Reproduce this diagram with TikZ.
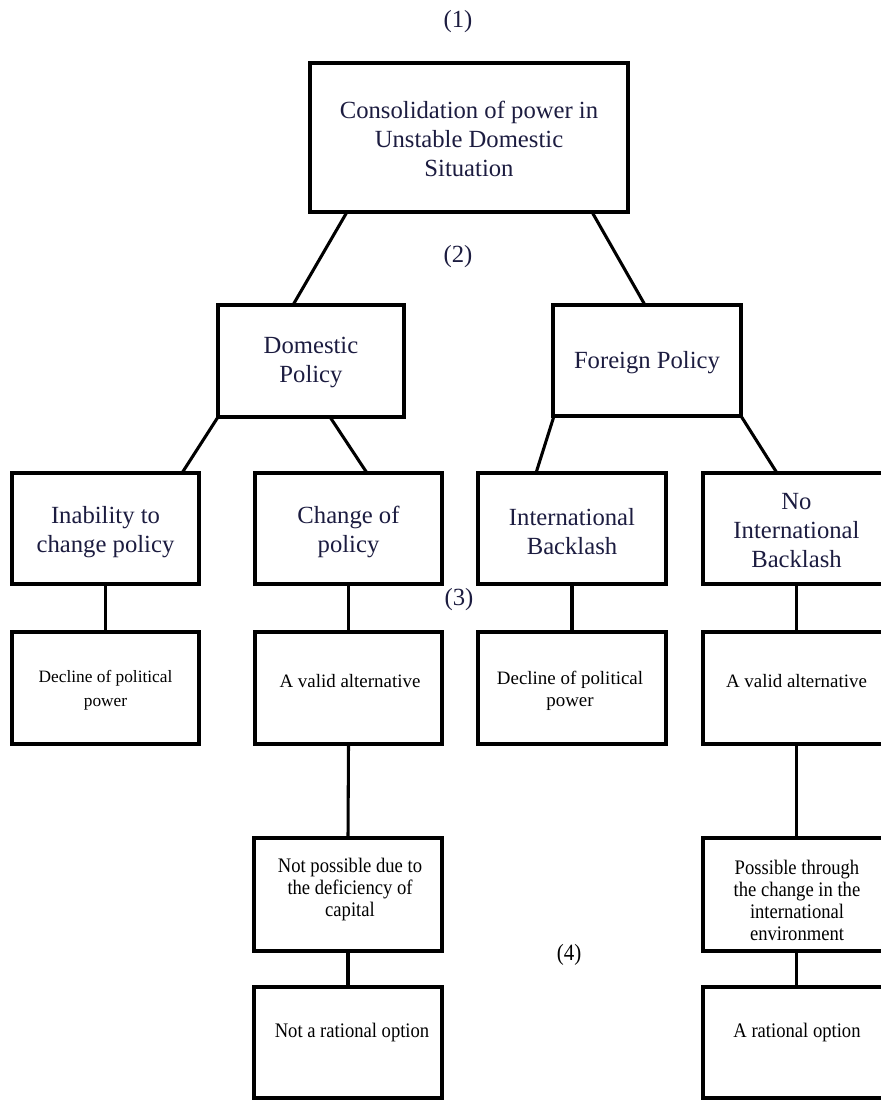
\documentclass[tikz,border=0pt]{standalone}
\usepackage{fontspec}
\setmainfont{Liberation Serif}
\usetikzlibrary{calc}
\definecolor{navy}{RGB}{28,28,64}
\begin{document}
\begin{tikzpicture}[x=0.75pt,y=-0.75pt,
  bx/.style 2 args={draw, line width=2.3pt, minimum width=#1*0.75pt, minimum height=#2*0.75pt, inner sep=0pt, outer sep=0pt},
  conn/.style={line width=2.3pt},
  big/.style={align=center, inner sep=0pt, text=navy, font=\fontsize{18.5}{21.75}\selectfont},
  gar/.style={align=center, inner sep=0pt, font=\fontsize{13}{18}\selectfont},
  camb/.style={align=center, inner sep=0pt, font=\fontsize{14.2}{16.5}\selectfont},
  cond/.style={align=center, inner sep=0pt, font=\addfontfeatures{FakeStretch=0.9}\fontsize{15.5}{16.5}\selectfont},
  lab/.style={inner sep=0pt, text=navy, font=\fontsize{18.5}{21.75}\selectfont}
]
\useasboundingbox (0,0) rectangle (881,1100);

% boxes
\node[bx={318}{149}] (T) at (469,137.5) {};
\node[bx={186}{112}] (D) at (311,361) {};
\node[bx={188}{111}] (F) at (647,360.5) {};
\node[bx={187}{111}] (A1) at (105.5,528.5) {};
\node[bx={187}{111}] (A2) at (348.5,528.5) {};
\node[bx={188}{111}] (A3) at (572,528.5) {};
\node[bx={187}{111}] (A4) at (796.5,528.5) {};
\node[bx={187}{112}] (B1) at (105.5,688) {};
\node[bx={187}{112}] (B2) at (348.5,688) {};
\node[bx={188}{112}] (B3) at (572,688) {};
\node[bx={187}{112}] (B4) at (796.5,688) {};
\node[bx={188}{113}] (C2) at (348,894.5) {};
\node[bx={187}{113}] (C4) at (796.5,894.5) {};
\node[bx={188}{111}] (E2) at (348,1042.5) {};
\node[bx={187}{111}] (E4) at (796.5,1042.5) {};

% texts
\node[big] (tT) at (469,139) {Consolidation of power in\\Unstable Domestic\\Situation};
\node[big] (tD) at (311,362) {Domestic\\Policy};
\node[big] (tF) at (647,363) {Foreign Policy};
\node[big] (tA1) at (105.5,532) {Inability to\\change policy};
\node[big] (tA2) at (348.5,532) {Change of\\policy};
\node[big] (tA3) at (572,532) {International\\Backlash};
\node[big] (tA4) at (796.5,531) {No\\International\\Backlash};
\node[gar] (tB1) at (105.5,690) {Decline of political\\power};
\node[camb] (tB2) at (350,681) {A valid alternative};
\node[camb] (tB3) at (570,691) {Decline of political\\power};
\node[camb] (tB4) at (796.5,681) {A valid alternative};
\node[cond] (tC2) at (350,890) {Not possible due to\\the deficiency of\\capital};
\node[cond] (tC4) at (797,900) {Possible through\\the change in the\\international\\environment};
\node[cond] (tE2) at (352,1033) {Not a rational option};
\node[cond] (tE4) at (797,1033) {A rational option};

% labels
\node[lab] (l1) at (458,22) {(1)};
\node[lab] (l2) at (458,257) {(2)};
\node[lab] (l3) at (459,600) {(3)};
\node[cond] (l4) at (569,955) {\fontsize{17.5}{20}\selectfont(4)};

% connectors
\draw[conn] ($(T.south west)+(37,0)$) -- ($(D.north west)+(75,0)$);
\draw[conn] ($(T.south west)+(282,0)$) -- ($(F.north west)+(92,0)$);
\draw[conn] (D.south west) -- ($(A1.north west)+(170,0)$);
\draw[conn] ($(D.south west)+(112,0)$) -- ($(A2.north west)+(112,0)$);
\draw[conn] ($(F.south west)+(1,0)$) -- ($(A3.north west)+(58,0)$);
\draw[conn] (F.south east) -- ($(A4.north west)+(74,0)$);
\draw[conn] (A1.south) -- (B1.north);
\draw[conn] (A2.south) -- (B2.north);
\draw[conn] (A3.south) -- (B3.north);
\draw[conn] (A4.south) -- (B4.north);
\draw[conn] (B2.south) -- (C2.north);
\draw[conn] (B4.south) -- (C4.north);
\draw[conn] (C2.south) -- (E2.north);
\draw[conn] (C4.south) -- (E4.north);
\end{tikzpicture}
\end{document}
